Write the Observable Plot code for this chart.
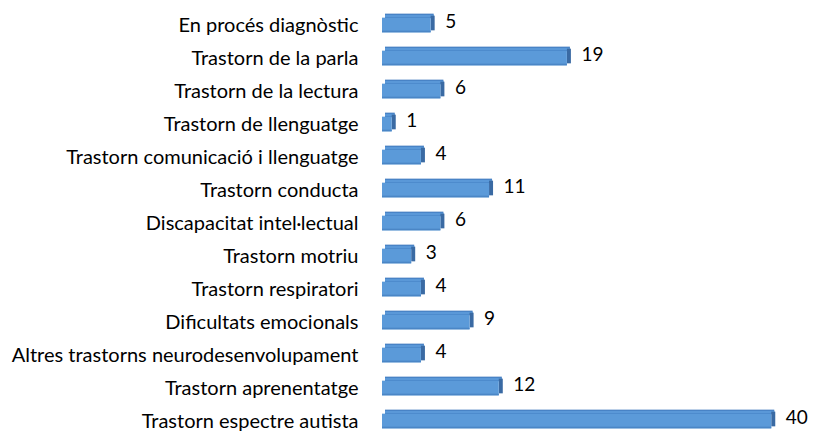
<!DOCTYPE html>
<html>
<head>
<meta charset="utf-8">
<script src="https://cdn.jsdelivr.net/npm/d3@7"></script>
<script src="https://cdn.jsdelivr.net/npm/@observablehq/plot@0.6"></script>
<style>
  html, body { margin: 0; padding: 0; background: #fff; }
  #chart svg { display: block; }
</style>
</head>
<body>
<div id="chart"></div>
<script>
const categories = [
  "En procés diagnòstic",
  "Trastorn de la parla",
  "Trastorn de la lectura",
  "Trastorn de llenguatge",
  "Trastorn comunicació i llenguatge",
  "Trastorn conducta",
  "Discapacitat intel·lectual",
  "Trastorn motriu",
  "Trastorn respiratori",
  "Dificultats emocionals",
  "Altres trastorns neurodesenvolupament",
  "Trastorn aprenentatge",
  "Trastorn espectre autista"
];
const values = [5, 19, 6, 1, 4, 11, 6, 3, 4, 9, 4, 12, 40];

const data = categories.map((c, i) => ({category: c, value: values[i]}));

const font = "Lato, 'Open Sans', sans-serif";
const half = (438 - 5) / 13 / 2; // half band

const chart = Plot.plot({
  width: 817,
  height: 438,
  marginTop: 5,
  marginBottom: 0,
  marginLeft: 382,
  marginRight: 0,
  style: {fontFamily: font, fontSize: "20px", color: "#000", background: "#fff"},
  x: {domain: [0, 44.7], axis: null},
  y: {domain: categories, padding: 0, label: null},
  marks: [
    Plot.axisY({tickSize: 0, tickPadding: 24, fontSize: 20, label: null, dy: 2}),
    // top face
    Plot.barX(data, {
      x1: 0, x2: "value", y: "category",
      fill: "#3f78bd",
      dx: 3,
      insetTop: half - 10, insetBottom: half + 5
    }),
    Plot.barX(data, {
      x1: 0, x2: "value", y: "category",
      fill: "#5a98d8",
      dx: 3,
      insetTop: half - 9, insetBottom: half + 6
    }),
    // side face
    Plot.barX(data, {
      x1: "value", x2: "value", y: "category",
      fill: "#3a6aa3",
      insetRight: -4,
      insetTop: half - 8, insetBottom: half - 7
    }),
    // front face
    Plot.barX(data, {
      x1: 0, x2: "value", y: "category",
      fill: "#5b9ad9",
      insetTop: half - 6, insetBottom: half - 9
    }),
    Plot.barX(data, {
      x1: 0, x2: "value", y: "category",
      fill: "#4a86c6",
      insetTop: half + 7, insetBottom: half - 9
    }),
    Plot.text(data, {
      x: "value", y: "category", text: d => String(d.value),
      textAnchor: "start", dx: 14, dy: -2,
      fontSize: 19, fill: "#000"
    })
  ]
});
document.getElementById("chart").appendChild(chart);
</script>
</body>
</html>
